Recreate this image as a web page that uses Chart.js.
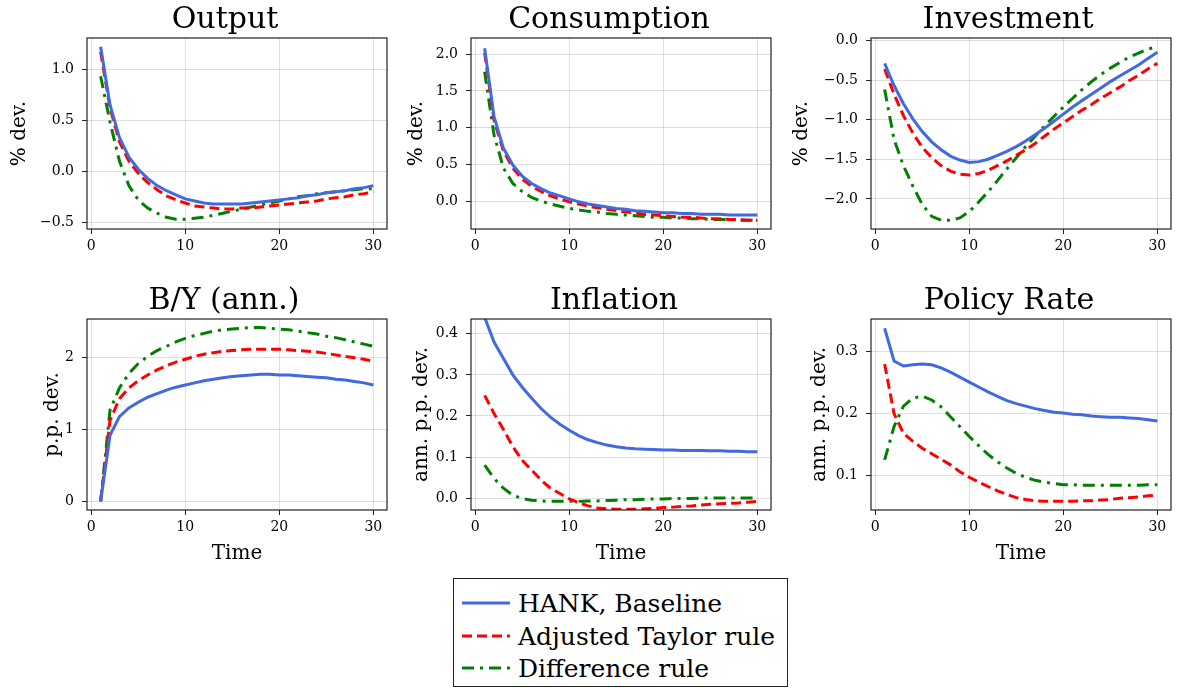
<!DOCTYPE html>
<html>
<head>
<meta charset="utf-8">
<script src="https://cdn.jsdelivr.net/npm/chart.js@4"></script>
<style>
  body { margin: 0; background: #fff; width: 1179px; height: 690px; position: relative; overflow: hidden; font-family: "DejaVu Serif", serif; }
  canvas { position: absolute; }
  #legenda { position: absolute; left: 453px; top: 578px; width: 335px; height: 109px; border: 1px solid #222; box-sizing: border-box; background: #fff; }
  .item { position: absolute; left: 8px; height: 32px; display: flex; align-items: center; font-size: 25px; color: #000; white-space: nowrap; }
  .item svg { margin-right: 8px; }
</style>
</head>
<body>
<div id="legenda">
  <div class="item" style="top:8px"><svg width="48" height="6"><line x1="0" y1="3" x2="48" y2="3" stroke="#4169E1" stroke-width="3"/></svg>HANK, Baseline</div>
  <div class="item" style="top:41px"><svg width="48" height="6"><line x1="0" y1="3" x2="48" y2="3" stroke="#ff0000" stroke-width="3" stroke-dasharray="10,5"/></svg>Adjusted Taylor rule</div>
  <div class="item" style="top:73px"><svg width="48" height="6"><line x1="0" y1="3" x2="48" y2="3" stroke="#008000" stroke-width="3" stroke-dasharray="12,6,3,6"/></svg>Difference rule</div>
</div>
<script>
// Períodos (trimestres)
const periodos = [1, 2, 3, 4, 5, 6, 7, 8, 9, 10, 11, 12, 13, 14, 15, 16, 17, 18, 19, 20, 21, 22, 23, 24, 25, 26, 27, 28, 29, 30];

// Output
const outputBase = [1.22, 0.65, 0.33, 0.14, 0.02, -0.07, -0.14, -0.19, -0.23, -0.27, -0.29, -0.31, -0.32, -0.32, -0.32, -0.32, -0.31, -0.30, -0.29, -0.28, -0.27, -0.26, -0.24, -0.23, -0.21, -0.20, -0.19, -0.17, -0.16, -0.14];
const outputTaylor = [1.17, 0.62, 0.29, 0.10, -0.02, -0.11, -0.18, -0.24, -0.28, -0.31, -0.34, -0.35, -0.36, -0.37, -0.37, -0.36, -0.36, -0.35, -0.34, -0.33, -0.32, -0.31, -0.30, -0.29, -0.27, -0.26, -0.25, -0.23, -0.22, -0.20];
const outputDiff = [0.93, 0.48, 0.10, -0.14, -0.28, -0.36, -0.41, -0.45, -0.47, -0.47, -0.46, -0.45, -0.43, -0.41, -0.39, -0.37, -0.35, -0.33, -0.31, -0.29, -0.27, -0.25, -0.24, -0.22, -0.21, -0.20, -0.19, -0.18, -0.17, -0.17];

// Consumption
const consBase = [2.08, 1.15, 0.72, 0.49, 0.34, 0.24, 0.17, 0.11, 0.07, 0.03, -0.01, -0.04, -0.06, -0.08, -0.10, -0.11, -0.13, -0.14, -0.15, -0.16, -0.16, -0.17, -0.17, -0.18, -0.18, -0.18, -0.19, -0.19, -0.19, -0.19];
const consTaylor = [2.02, 1.10, 0.68, 0.45, 0.30, 0.20, 0.13, 0.07, 0.03, -0.01, -0.04, -0.07, -0.09, -0.11, -0.13, -0.15, -0.16, -0.18, -0.19, -0.20, -0.21, -0.22, -0.22, -0.23, -0.24, -0.24, -0.25, -0.25, -0.26, -0.26];
const consDiff = [1.76, 0.90, 0.45, 0.24, 0.13, 0.05, 0.00, -0.04, -0.07, -0.10, -0.12, -0.14, -0.15, -0.17, -0.18, -0.19, -0.20, -0.21, -0.22, -0.22, -0.23, -0.23, -0.24, -0.24, -0.25, -0.25, -0.25, -0.26, -0.26, -0.26];

// Investment
const invBase = [-0.29, -0.57, -0.80, -0.99, -1.15, -1.28, -1.38, -1.46, -1.51, -1.54, -1.53, -1.50, -1.45, -1.40, -1.34, -1.27, -1.19, -1.11, -1.02, -0.93, -0.84, -0.76, -0.68, -0.60, -0.52, -0.45, -0.38, -0.31, -0.23, -0.15];
const invTaylor = [-0.36, -0.68, -0.95, -1.17, -1.35, -1.48, -1.58, -1.65, -1.69, -1.70, -1.68, -1.64, -1.58, -1.52, -1.45, -1.38, -1.30, -1.21, -1.12, -1.04, -0.96, -0.88, -0.81, -0.73, -0.66, -0.59, -0.51, -0.44, -0.36, -0.29];
const invDiff = [-0.62, -1.25, -1.58, -1.84, -2.07, -2.22, -2.27, -2.27, -2.24, -2.16, -2.04, -1.91, -1.77, -1.62, -1.48, -1.34, -1.21, -1.08, -0.96, -0.84, -0.73, -0.62, -0.52, -0.43, -0.35, -0.28, -0.21, -0.16, -0.11, -0.08];

// B/Y (ann.)
const byBase = [0, 0.92, 1.18, 1.30, 1.38, 1.45, 1.50, 1.55, 1.59, 1.62, 1.65, 1.68, 1.70, 1.72, 1.74, 1.75, 1.76, 1.77, 1.77, 1.76, 1.76, 1.75, 1.74, 1.73, 1.72, 1.70, 1.69, 1.67, 1.65, 1.62];
const byTaylor = [0, 1.13, 1.43, 1.58, 1.68, 1.76, 1.83, 1.89, 1.94, 1.98, 2.02, 2.05, 2.07, 2.09, 2.10, 2.11, 2.12, 2.12, 2.12, 2.12, 2.11, 2.10, 2.09, 2.08, 2.06, 2.04, 2.02, 2.00, 1.98, 1.95];
const byDiff = [0, 1.27, 1.58, 1.78, 1.92, 2.02, 2.10, 2.16, 2.22, 2.27, 2.31, 2.34, 2.37, 2.39, 2.40, 2.41, 2.42, 2.42, 2.41, 2.40, 2.39, 2.37, 2.35, 2.33, 2.30, 2.28, 2.25, 2.22, 2.19, 2.16];

// Inflation
const inflBase = [0.44, 0.38, 0.34, 0.30, 0.27, 0.243, 0.218, 0.197, 0.18, 0.165, 0.152, 0.142, 0.135, 0.129, 0.125, 0.122, 0.120, 0.119, 0.118, 0.117, 0.117, 0.116, 0.116, 0.116, 0.115, 0.115, 0.114, 0.114, 0.113, 0.113];
const inflTaylor = [0.25, 0.206, 0.167, 0.125, 0.092, 0.068, 0.044, 0.024, 0.011, -0.002, -0.011, -0.019, -0.024, -0.026, -0.027, -0.027, -0.027, -0.026, -0.025, -0.023, -0.022, -0.020, -0.019, -0.017, -0.015, -0.014, -0.013, -0.012, -0.010, -0.008];
const inflDiff = [0.08, 0.048, 0.024, 0.007, -0.001, -0.005, -0.007, -0.008, -0.008, -0.008, -0.008, -0.007, -0.007, -0.006, -0.005, -0.004, -0.004, -0.003, -0.002, -0.002, -0.001, -0.001, -0.001, 0.0, 0.0, 0.0, 0.0, 0.0, 0.0, 0.0];

// Policy Rate
const rateBase = [0.338, 0.285, 0.277, 0.279, 0.280, 0.279, 0.274, 0.267, 0.259, 0.251, 0.243, 0.235, 0.228, 0.221, 0.216, 0.212, 0.208, 0.205, 0.202, 0.201, 0.199, 0.198, 0.196, 0.195, 0.194, 0.194, 0.193, 0.192, 0.190, 0.188];
const rateTaylor = [0.28, 0.20, 0.168, 0.155, 0.144, 0.135, 0.126, 0.117, 0.106, 0.097, 0.089, 0.082, 0.075, 0.069, 0.064, 0.061, 0.059, 0.058, 0.058, 0.058, 0.058, 0.059, 0.059, 0.060, 0.061, 0.063, 0.064, 0.065, 0.067, 0.068];
const rateDiff = [0.125, 0.179, 0.212, 0.225, 0.228, 0.222, 0.211, 0.195, 0.179, 0.163, 0.148, 0.134, 0.122, 0.112, 0.103, 0.097, 0.092, 0.089, 0.087, 0.085, 0.085, 0.084, 0.084, 0.084, 0.084, 0.084, 0.084, 0.084, 0.085, 0.085];

// Ticks
const xTicks = [0, 10, 20, 30];
const outputTicks = [-0.5, 0, 0.5, 1.0];
const consTicks = [0, 0.5, 1.0, 1.5, 2.0];
const invTicks = [-2.0, -1.5, -1.0, -0.5, 0];
const byTicks = [0, 1, 2];
const inflTicks = [0, 0.1, 0.2, 0.3, 0.4];
const rateTicks = [0.1, 0.2, 0.3];

const nomesSeries = ["HANK, Baseline", "Adjusted Taylor rule", "Difference rule"];
const FONTE = "'DejaVu Serif', serif";

// Painéis: dados + posição da área do gráfico na página
const paineis = [
    { titulo: "Output", rotulo: "% dev.", series: [outputBase, outputTaylor, outputDiff], yTicks: outputTicks, dec: 1, min: -0.565, max: 1.305, x: 87, y: 38, yw: 83, tx: -12, tempo: false },
    { titulo: "Consumption", rotulo: "% dev.", series: [consBase, consTaylor, consDiff], yTicks: consTicks, dec: 1, min: -0.38, max: 2.22, x: 471, y: 38, yw: 70, tx: -12, tempo: false },
    { titulo: "Investment", rotulo: "% dev.", series: [invBase, invTaylor, invDiff], yTicks: invTicks, dec: 1, min: -2.38, max: 0.03, x: 871, y: 38, yw: 85, tx: -13, tempo: false },
    { titulo: "B/Y (ann.)", rotulo: "p.p. dev.", series: [byBase, byTaylor, byDiff], yTicks: byTicks, dec: 0, min: -0.121, max: 2.54, x: 87, y: 319, yw: 50, tx: -13, tempo: true },
    { titulo: "Inflation", rotulo: "ann. p.p. dev.", series: [inflBase, inflTaylor, inflDiff], yTicks: inflTicks, dec: 1, min: -0.029, max: 0.436, x: 471, y: 319, yw: 65, tx: -7, tempo: true },
    { titulo: "Policy Rate", rotulo: "ann. p.p. dev.", series: [rateBase, rateTaylor, rateDiff], yTicks: rateTicks, dec: 1, min: 0.044, max: 0.353, x: 871, y: 319, yw: 67, tx: -12, tempo: true }
];

const cores = ["#4169E1", "#ff0000", "#008000"];
const tracos = [[], [10, 5], [12, 6, 3, 6]];

// moldura completa em volta da área do gráfico + título centrado nela
const moldura = {
    id: "moldura",
    afterDatasetsDraw(chart, args, opts) {
        const { ctx, chartArea: a } = chart;
        ctx.save();
        ctx.strokeStyle = "#222";
        ctx.lineWidth = 1.2;
        ctx.strokeRect(a.left, a.top, a.right - a.left, a.bottom - a.top);
        ctx.fillStyle = "#000";
        ctx.font = "30px " + FONTE;
        ctx.textAlign = "center";
        ctx.textBaseline = "alphabetic";
        ctx.fillText(opts.texto, (a.left + a.right) / 2 + opts.dx, a.top - 10);
        ctx.restore();
    }
};

paineis.forEach(function (p) {
    const alturaX = p.tempo ? 58 : 28;
    const largura = p.yw + 300 + 12;
    const altura = 38 + 191 + alturaX;

    const canvas = document.createElement("canvas");
    canvas.width = largura;
    canvas.height = altura;
    canvas.style.left = (p.x - p.yw) + "px";
    canvas.style.top = (p.y - 38) + "px";
    canvas.style.width = largura + "px";
    canvas.style.height = altura + "px";
    document.body.appendChild(canvas);

    new Chart(canvas.getContext("2d"), {
        type: "line",
        data: {
            datasets: p.series.map(function (s, i) {
                return {
                    label: nomesSeries[i],
                    data: periodos.map(function (t, k) { return { x: t, y: s[k] }; }),
                    borderColor: cores[i],
                    borderWidth: 3,
                    borderDash: tracos[i],
                    pointRadius: 0,
                    tension: 0,
                    fill: false
                };
            })
        },
        options: {
            responsive: false,
            animation: false,
            devicePixelRatio: 1,
            layout: { padding: { left: 0, right: 12, top: 38, bottom: 0 } },
            plugins: {
                legend: { display: false },
                tooltip: { enabled: false },
                title: { display: false },
                moldura: { texto: p.titulo, dx: p.tx }
            },
            scales: {
                x: {
                    type: "linear",
                    min: -0.45,
                    max: 31.45,
                    afterBuildTicks: function (s) { s.ticks = xTicks.map(function (v) { return { value: v }; }); },
                    afterFit: function (s) { s.height = alturaX; s.paddingLeft = 0; s.paddingRight = 0; },
                    ticks: { color: "#000", font: { family: FONTE, size: 14 }, padding: 4, maxRotation: 0, autoSkip: false,
                             callback: function (v) { return String(v); } },
                    grid: { color: "rgba(0,0,0,0.12)", tickColor: "#222", tickLength: 5, lineWidth: 1 },
                    border: { display: false },
                    title: { display: p.tempo, text: "Time", color: "#000",
                             font: { family: FONTE, size: 20, lineHeight: 1.2 }, padding: { top: 0, bottom: 2 } }
                },
                y: {
                    type: "linear",
                    min: p.min,
                    max: p.max,
                    afterBuildTicks: function (s) { s.ticks = p.yTicks.map(function (v) { return { value: v }; }); },
                    afterFit: function (s) { s.width = p.yw; s.paddingTop = 0; s.paddingBottom = 0; },
                    ticks: { color: "#000", font: { family: FONTE, size: 14 }, padding: 8, autoSkip: false,
                             callback: function (v) { return v.toFixed(p.dec).replace("-", "\u2212"); } },
                    grid: { color: "rgba(0,0,0,0.12)", tickColor: "#222", tickLength: 5, lineWidth: 1 },
                    border: { display: false },
                    title: { display: true, text: p.rotulo, color: "#000",
                             font: { family: FONTE, size: 20, lineHeight: 1.2 }, padding: { top: 4, bottom: 0 } }
                }
            }
        },
        plugins: [moldura]
    });
});
</script>
</body>
</html>
